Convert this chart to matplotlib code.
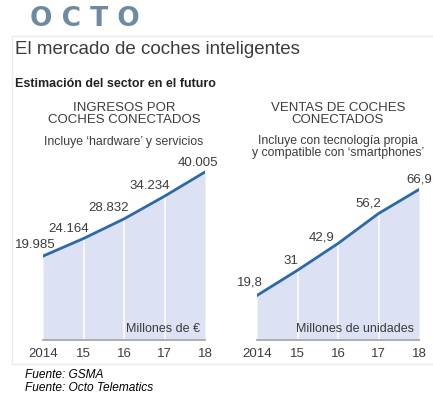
import matplotlib
matplotlib.use('Agg')
import matplotlib.pyplot as plt
from matplotlib.patches import Rectangle

plt.rcParams['font.family'] = ['Liberation Sans', 'DejaVu Sans']

years = [2014, 2015, 2016, 2017, 2018]
year_labels = ['2014', '15', '16', '17', '18']
ingresos = [19985, 24164, 28832, 34234, 40005]
ingresos_labels = ['19.985', '24.164', '28.832', '34.234', '40.005']
ventas = [19.8, 31, 42.9, 56.2, 66.9]
ventas_labels = ['19,8', '31', '42,9', '56,2', '66,9']

W, H = 433, 399
LINE = '#2b6aa6'
FILL = '#dde1f4'
TXT = '#3c3c3c'


def fx(x):
    return x / W


def fy(y):
    return 1 - y / H


fig = plt.figure(figsize=(W / 100, H / 100), dpi=100)
fig.patch.set_facecolor('white')

# panel frame
fig.patches.append(Rectangle((fx(12), fy(364)), fx(440) - fx(12), fy(36) - fy(364),
                             transform=fig.transFigure, fill=False,
                             edgecolor='#ebebeb', linewidth=1.0))

# logo
fig.text(fx(30), fy(19), 'O C T O', fontsize=19, fontweight='bold', color='#6c8ba3',
         va='center', ha='left', family=['DejaVu Sans'])

fig.text(fx(15), fy(50), 'El mercado de coches inteligentes', fontsize=13.5, color=TXT,
         va='center', ha='left')
fig.text(fx(15), fy(84), 'Estimación del sector en el futuro', fontsize=9, color='#222222',
         fontweight='bold', va='center', ha='left')


def panel(x0, values, labels, ymax, offsets, title, sub, unit):
    ax = fig.add_axes([fx(x0), fy(340), 162 / W, 180 / H])
    ax.set_xlim(years[0], years[-1])
    ax.set_ylim(0, ymax)
    ax.fill_between(years, values, 0, color=FILL, linewidth=0)
    for yr, v in zip(years[1:-1], values[1:-1]):
        ax.plot([yr, yr], [0, v], color='white', linewidth=1.1)
    ax.plot(years, values, color=LINE, linewidth=2)
    for yr, v, lab, off in zip(years, values, labels, offsets):
        ax.annotate(lab, (yr, v), xytext=(off[0] * 0.72, off[1] * 0.72),
                    textcoords='offset points', ha='center', va='center',
                    fontsize=9.5, color=TXT)
    for s in ['top', 'left', 'right']:
        ax.spines[s].set_visible(False)
    ax.spines['bottom'].set_color('#a9a9a9')
    ax.spines['bottom'].set_linewidth(1.3)
    ax.set_yticks([])
    ax.set_xticks(years)
    ax.set_xticklabels(year_labels, fontsize=9.5, color=TXT)
    ax.tick_params(axis='x', length=0, pad=6)
    ax.patch.set_alpha(0)
    ax.text(0.97, 0.06, unit, transform=ax.transAxes, ha='right', va='center',
            fontsize=9, color=TXT)
    cx = x0 + 81
    fig.text(fx(cx), fy(114), title, ha='center', va='center', fontsize=9.5,
             color=TXT, linespacing=1.0)
    fig.text(fx(cx), fy(147 if '\n' in sub else 142), sub, ha='center', va='center',
             fontsize=8.8, color=TXT, linespacing=1.05)
    return ax


panel(43, ingresos, ingresos_labels, 42857,
      [(-8, 11), (-15, 10), (-15, 11), (-15, 10), (-7, 9)],
      'INGRESOS POR\nCOCHES CONECTADOS', 'Incluye \u2018hardware\u2019 y servicios',
      'Millones de \u20ac')
panel(257, ventas, ventas_labels, 80,
      [(-7, 13), (-7, 9), (-16, 6), (-10, 10), (0, 10)],
      'VENTAS DE COCHES\nCONECTADOS',
      'Incluye con tecnología propia\ny compatible con \u2018smartphones\u2019',
      'Millones de unidades')

fig.text(fx(25), fy(375), 'Fuente: GSMA', fontsize=8.6, style='italic', color='black',
         va='center', ha='left')
fig.text(fx(25), fy(388), 'Fuente: Octo Telematics', fontsize=8.6, style='italic',
         color='black', va='center', ha='left')

fig.savefig('out.png', dpi=100)
